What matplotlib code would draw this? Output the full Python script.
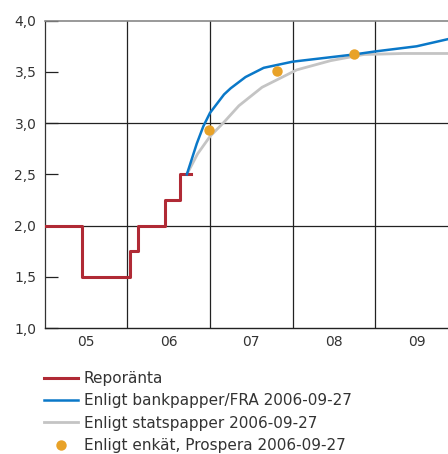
import matplotlib
matplotlib.use("Agg")
import matplotlib.pyplot as plt

# Reporänta (steg, decimalår)
repo_x = [2005.0, 2005.45, 2006.035, 2006.13, 2006.46, 2006.64, 2006.77]
repo_y = [2.0, 1.5, 1.75, 2.0, 2.25, 2.5, 2.5]

# Enligt bankpapper/FRA 2006-09-27
bank_x = [2006.72, 2006.84, 2006.92, 2007.0, 2007.17, 2007.25, 2007.43, 2007.65,
          2008.0, 2008.74, 2009.0, 2009.5, 2009.88]
bank_y = [2.5, 2.80, 2.97, 3.10, 3.28, 3.34, 3.45, 3.54,
          3.60, 3.67, 3.70, 3.75, 3.82]

# Enligt statspapper 2006-09-27
stat_x = [2006.72, 2006.85, 2007.0, 2007.17, 2007.35, 2007.63, 2008.05, 2008.46,
          2008.86, 2009.34, 2009.88]
stat_y = [2.5, 2.70, 2.87, 3.01, 3.17, 3.35, 3.52, 3.61,
          3.67, 3.68, 3.68]

# Enligt enkät, Prospera 2006-09-27
enk_x = [2006.99, 2007.81, 2008.74]
enk_y = [2.93, 3.51, 3.675]

years = [2005, 2006, 2007, 2008, 2009]
year_labels = ["05", "06", "07", "08", "09"]
y_ticks = [1.0, 1.5, 2.0, 2.5, 3.0, 3.5, 4.0]

fig = plt.figure(figsize=(4.48, 4.54), dpi=100)
ax = fig.add_axes([44.7 / 448, (454 - 328) / 454, (448 - 44.7) / 448, (328 - 20.7) / 454])

ax.step(repo_x, repo_y, where="post", color="#b02a35", lw=2.2, label="Reporänta", zorder=3)
ax.plot(bank_x, bank_y, color="#0a78c8", lw=1.8, label="Enligt bankpapper/FRA 2006-09-27", zorder=3)
ax.plot(stat_x, stat_y, color="#c4c4c4", lw=2.0, label="Enligt statspapper 2006-09-27", zorder=2)
ax.plot(enk_x, enk_y, ls="none", marker="o", ms=7.5, color="#e8a228", mec="none",
        label="Enligt enkät, Prospera 2006-09-27", zorder=4)

ax.set_xlim(2005.0, 2009.88)
ax.set_ylim(1.0, 4.0)

# rutnät bara på hela år och hela procent
for yr in years[1:]:
    ax.axvline(yr, color="#222222", lw=0.9, zorder=1)
for v in [2.0, 3.0]:
    ax.axhline(v, color="#222222", lw=0.9, zorder=1)

ax.set_yticks(y_ticks)
ax.set_yticklabels([f"{v:.1f}".replace(".", ",") for v in y_ticks])
ax.set_xticks([y + 0.5 for y in years])
ax.set_xticklabels(year_labels)
ax.tick_params(axis="y", direction="in", length=9, width=0.9, colors="#222222",
               labelsize=10, pad=6, labelcolor="#333333")
ax.tick_params(axis="x", length=0, labelsize=10, pad=5, labelcolor="#333333")

ax.spines["right"].set_visible(False)
ax.spines["top"].set_color("#888888")
ax.spines["top"].set_linewidth(1.2)
ax.spines["left"].set_color("#333333")
ax.spines["bottom"].set_color("#222222")
ax.spines["left"].set_linewidth(0.9)
ax.spines["bottom"].set_linewidth(1.0)

fig.legend(loc="upper left", bbox_to_anchor=(44 / 448, 1 - 371 / 454), frameon=False,
           fontsize=11, handlelength=2.2, handletextpad=0.4, labelspacing=0.48,
           borderaxespad=0, borderpad=0, labelcolor="#333333")

fig.savefig("out.png", dpi=100)
